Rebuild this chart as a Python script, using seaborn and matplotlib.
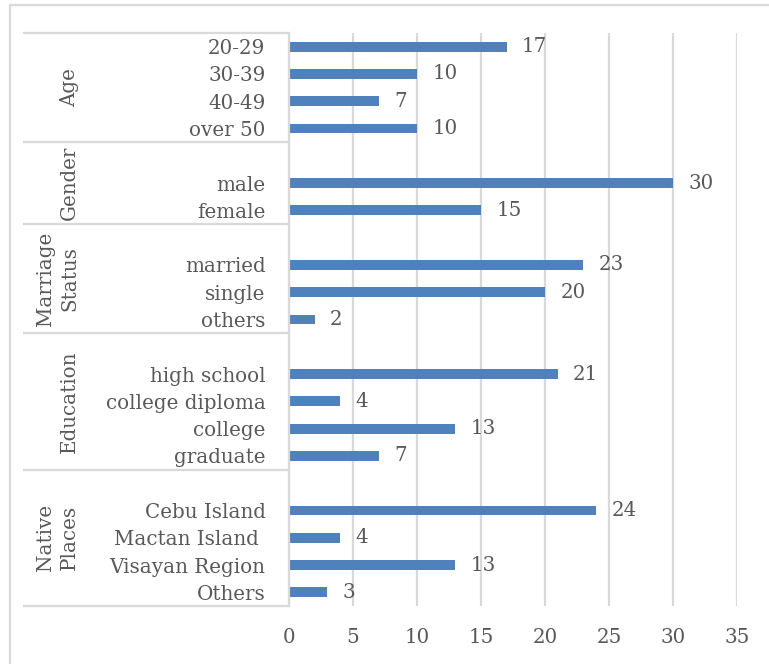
import matplotlib
matplotlib.use("Agg")
import matplotlib.pyplot as plt
import matplotlib.transforms as mtransforms
import seaborn as sns
import pandas as pd

# Survey profile: groups, their category labels and respondent counts
groups = ["Age", "Gender", "Marriage\nStatus", "Education", "Native\nPlaces"]
age_labels = ["20-29", "30-39", "40-49", "over 50"]
age_counts = [17, 10, 7, 10]
gender_labels = ["male", "female"]
gender_counts = [30, 15]
marriage_labels = ["married", "single", "others"]
marriage_counts = [23, 20, 2]
education_labels = ["high school", "college diploma", "college", "graduate"]
education_counts = [21, 4, 13, 7]
native_labels = ["Cebu Island", "Mactan Island ", "Visayan Region", "Others"]
native_counts = [24, 4, 13, 3]
x_ticks = [0, 5, 10, 15, 20, 25, 30, 35]

# groups after the first start with one empty row
group_items = [
    (age_labels, age_counts, 0),
    (gender_labels, gender_counts, 1),
    (marriage_labels, marriage_counts, 1),
    (education_labels, education_counts, 1),
    (native_labels, native_counts, 1),
]

rows = []
bounds = []
pos = 0
for gi, (labels, counts, blank) in enumerate(group_items):
    start = pos
    pos += blank
    for lab, c in zip(labels, counts):
        rows.append({"slot": pos, "label": lab, "count": c})
        pos += 1
    bounds.append((start, pos))
n_slots = pos
df = pd.DataFrame(rows)

sns.set_theme(style="white")
plt.rcParams["font.family"] = ["DejaVu Serif"]
text_color = "#595959"
grid_color = "#D9D9D9"
bar_color = "#4F81BD"
fs = 14.3

W, H = 769, 664
fig = plt.figure(figsize=(W / 100, H / 100), dpi=100)
ax = fig.add_axes([289 / W, 1 - 606 / H, (737 - 289) / W, (606 - 33) / H])

sns.barplot(data=df, x="count", y="slot", orient="h", native_scale=True,
            color=bar_color, saturation=1, width=0.36, linewidth=0, ax=ax)

ax.set_xlim(0, 35)
ax.set_ylim(n_slots - 0.5, -0.5)
ax.set_xticks(x_ticks)
ax.set_xticklabels([str(t) for t in x_ticks], fontsize=fs, color=text_color)
ax.set_yticks(df["slot"])
ax.set_yticklabels(df["label"], fontsize=fs, color=text_color)
ax.tick_params(axis="x", length=0, pad=16)
ax.tick_params(axis="y", length=0, pad=17)
ax.set_xlabel("")
ax.set_ylabel("")
ax.xaxis.grid(True, color=grid_color, linewidth=1.6)
ax.yaxis.grid(False)
ax.set_axisbelow(True)
for s in ["top", "right", "bottom"]:
    ax.spines[s].set_visible(False)
ax.spines["left"].set_color(grid_color)
ax.spines["left"].set_linewidth(1.6)

# value labels at the bar ends
for _, r in df.iterrows():
    ax.annotate(str(r["count"]), xy=(r["count"], r["slot"]), xytext=(11, 0),
                textcoords="offset points", va="center", ha="left",
                fontsize=fs, color=text_color)

# group table: separator lines and rotated group names
trans = mtransforms.blended_transform_factory(fig.transFigure, ax.transData)
x0 = 23 / W
x1 = 289 / W
edges = sorted(set([b[0] for b in bounds] + [b[1] for b in bounds]))
for e in edges:
    ax.plot([x0, x1], [e - 0.5, e - 0.5], transform=trans, color=grid_color,
            linewidth=1.6, clip_on=False, solid_capstyle="butt")
for name, (a, b) in zip(groups, bounds):
    ax.text(79 / W, (a + b - 1) / 2, name, transform=trans, rotation=90,
            ha="right", va="center", multialignment="center",
            fontsize=fs, color=text_color, linespacing=1.35)

# outer chart frame (left and top edges)
fig.add_artist(plt.Line2D([10 / W, 10 / W], [0, 1 - 5 / H], transform=fig.transFigure,
                          color=grid_color, linewidth=1.6))
fig.add_artist(plt.Line2D([10 / W, 1], [1 - 5 / H, 1 - 5 / H], transform=fig.transFigure,
                          color=grid_color, linewidth=1.6))

fig.savefig("out.png", dpi=100)
